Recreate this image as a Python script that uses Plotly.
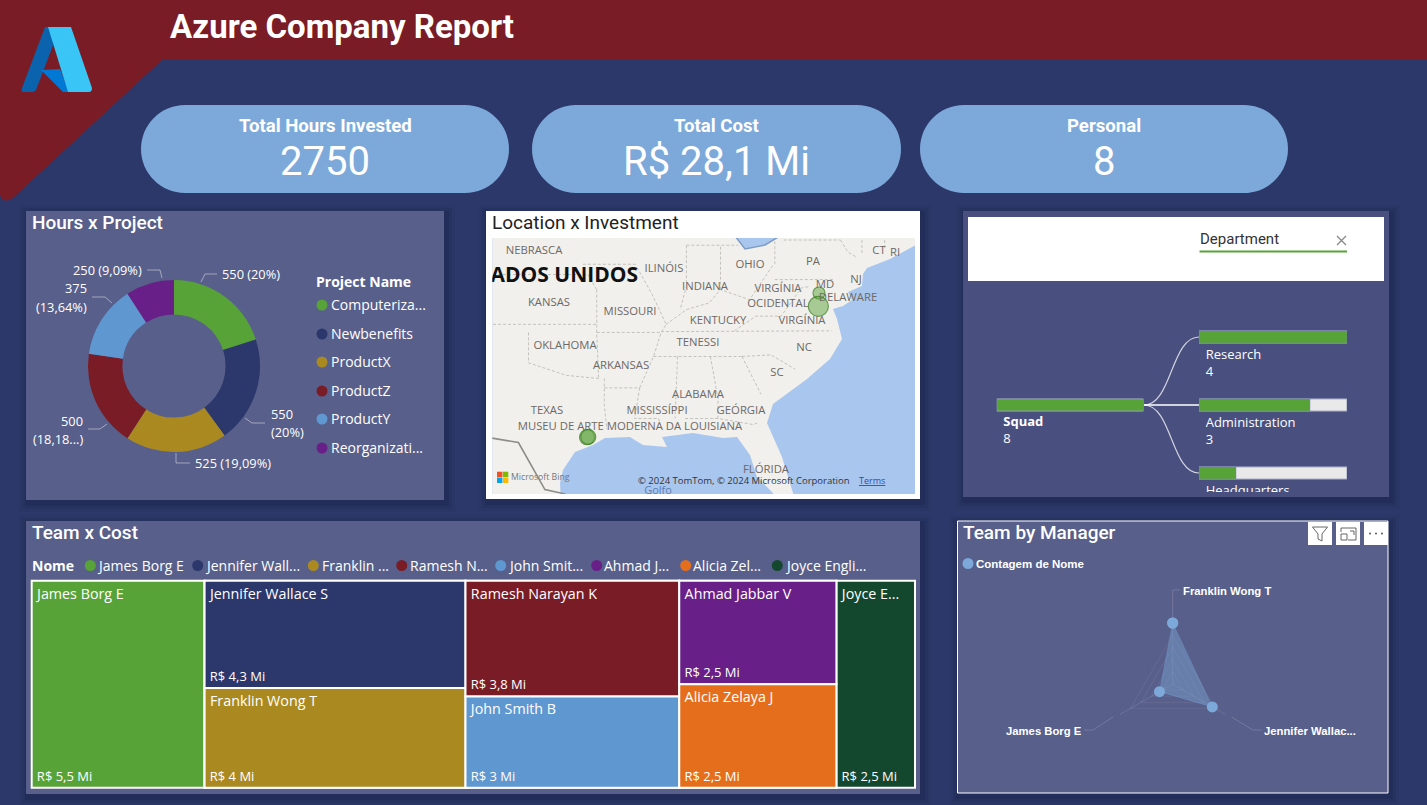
import math
import plotly.graph_objects as go

W, H = 1427, 805
BG = "#2c386a"; RED = "#7a1c26"; PANEL = "#585f8a"; PANEL2 = "#49507f"; PILL = "#7da9da"
GREEN = "#58a338"; NAVY = "#2c376b"; GOLD = "#aa8a20"; BLUE = "#5f97d1"; PURPLE = "#682088"
ORANGE = "#e56e1c"; DKGREEN = "#14482e"
DIN = "Roboto"; SEGOE = "Open Sans"; ARIAL = "Liberation Sans"

# ---- data
project_names = ["Computerization", "Newbenefits", "ProductX", "ProductZ", "ProductY", "Reorganization"]
project_hours = [550, 550, 525, 500, 375, 250]
project_colors = [GREEN, NAVY, GOLD, RED, BLUE, PURPLE]

team_ids = ["James", "gA", "Jennifer", "Franklin", "gB", "Ramesh", "John", "gC", "Ahmad", "Alicia", "Joyce"]
team_parents = ["", "", "gA", "gA", "", "gB", "gB", "", "gC", "gC", ""]
team_names = ["James Borg E", "", "Jennifer Wallace S", "Franklin Wong T", "", "Ramesh Narayan K", "John Smith B",
              "", "Ahmad Jabbar V", "Alicia Zelaya J", "Joyce E..."]
team_cost = [5.5, 8.3, 4.3, 4.0, 6.8, 3.8, 3.0, 5.0, 2.5, 2.5, 2.5]
team_cost_text = ["R$ 5,5 Mi", "", "R$ 4,3 Mi", "R$ 4 Mi", "", "R$ 3,8 Mi", "R$ 3 Mi", "", "R$ 2,5 Mi", "R$ 2,5 Mi", "R$ 2,5 Mi"]
team_colors = [GREEN, "rgba(0,0,0,0)", NAVY, GOLD, "rgba(0,0,0,0)", RED, BLUE, "rgba(0,0,0,0)", PURPLE, ORANGE, DKGREEN]

legend_names = ["James Borg E", "Jennifer Wall...", "Franklin ...", "Ramesh N...", "John Smit...", "Ahmad J...", "Alicia Zel...", "Joyce Engli..."]
legend_colors = [GREEN, NAVY, GOLD, RED, BLUE, PURPLE, ORANGE, DKGREEN]

dept_names = ["Research", "Administration", "Headquarters"]
dept_counts = [4, 3, 1]
dept_max = 4
squad_count = 8

manager_names = ["Franklin Wong T", "Jennifer Wallace S", "James Borg E"]
manager_counts = [4, 3, 1]

site_lon = [-77.0, -77.05, -95.37, -95.27]
site_lat = [38.9, 38.1, 29.76, 29.78]
site_size = [12, 20, 15, 15]

kpi_titles = ["Total Hours Invested", "Total Cost", "Personal"]
kpi_values = ["2750", "R$ 28,1 Mi", "8"]

# ---- background map outlines
land_px = [(480,520),(562,520),(560,483),(563,470),(575,452),(593,445),(605,438),(630,437),(643,445),(667,447),(662,437),
           (693,433),(723,438),(737,437),(750,455),(757,477),(773,493),(776,520),(797,520),(793,493),(782,457),(767,423),
           (773,404),(807,379),(830,359),(842,339),(837,319),(833,309),(843,306),(852,300),(848,292),(862,286),(863,274),
           (867,268),(890,259),(925,240),(925,220),(480,220)]
lake_px = [(735,236),(745,249),(765,245),(780,236)]
border_paths = [
    [(-104,40),(-95.3,40)], [(-104,37),(-94.6,37)], [(-94.6,39.1),(-94.6,36.5),(-94.45,33.6)],
    [(-94.6,36.5),(-89.5,36.5)], [(-100,36.5),(-100,34.6),(-97,33.8),(-94.45,33.6)],
    [(-94,33.6),(-94,31.9),(-93.8,30.3)], [(-94,33),(-91.2,33)], [(-91.2,33),(-91.6,31),(-89.7,31),(-89.6,30.6)],
    [(-91.2,33),(-90.1,35),(-89.5,36.5),(-89.1,37),(-90.2,38.8),(-91.4,40.4)],
    [(-89.5,36.55),(-81.7,36.6),(-76,36.6)], [(-90.1,35),(-83.1,35)], [(-88.2,35),(-88.4,31)],
    [(-85.6,35),(-85,32.3),(-85,31)], [(-87.6,31),(-85,31),(-82.2,30.6),(-81.9,30.7)],
    [(-83.1,35),(-81.6,32.6)], [(-83.1,35),(-80.8,35.1),(-78.9,34.2)],
    [(-89.1,37),(-87.5,37.9),(-85.7,38.3),(-84.8,39.1),(-82.5,38.5),(-80.6,40.6)],
    [(-87.5,41.7),(-87.5,39.3),(-88,37.9)], [(-84.8,39.1),(-84.8,41.7)], [(-87.5,41.7),(-83.4,41.7)],
    [(-80.5,40.6),(-80.5,42)], [(-80.5,39.7),(-75.8,39.7)], [(-79.8,42),(-75.3,42)],
    [(-83.7,36.6),(-82,37.5),(-80,37.5),(-78.4,39.2),(-77.7,39.3)], [(-95.7,40.6),(-91.4,40.6)],
    [(-94.6,39.1),(-95.3,40)], [(-75.3,42),(-74.7,41.3),(-74,41)],
    [(-73.6,42),(-73.6,41.2)], [(-71.8,42),(-71.8,41.5)],
]
rio_lon = [-104, -102.9, -100.8, -98.7, -97.1]
rio_lat = [29.4, 29.7, 29.4, 26.2, 25.9]

map_labels = ["NEBRASCA","ILINÓIS","OHIO","PA","CT","RI","INDIANA","VIRGÍNIA<br>OCIDENTAL","MD","NJ","DELAWARE","KANSAS","MISSOURI","KENTUCKY","VIRGÍNIA","OKLAHOMA","TENESSI","NC","ARKANSAS","SC","ALABAMA","TEXAS","MISSISSÍPPI","GEÓRGIA","MUSEU DE ARTE MODERNA DA LOUISIANA","FLÓRIDA"]
map_label_x = [534,664,750,813,879,895,705,778,825,856,848,549,630,718,802,565,698,804,621,777,698,547,657,741,630,766]
map_label_y = [251,269,265,262,251,253,287,297,285,280,298,303,312,321,321,346,343,348,366,373,395,411,411,411,427,470]


def merc(lat):
    return math.degrees(math.asinh(math.tan(math.radians(lat))))

MAP_X0, MAP_X1, MAP_Y0, MAP_Y1 = 492.3, 915, 238, 494
KX, KY = 12.63, 13.0
M0 = merc(38.9)

def px_lon(x): return -95.37 + (x-587)/KX
def px_merc(y): return M0 - (y-293)/KY

def dx(v): return [v[0]/W, v[1]/W]
def dy(y0, y1): return [1-y1/H, 1-y0/H]

def rr(x0, y0, x1, y1, r):
    k = r*0.5523
    return (f"M{x0+r},{y0} L{x1-r},{y0} C{x1-r+k},{y0} {x1},{y0+r-k} {x1},{y0+r} "
            f"L{x1},{y1-r} C{x1},{y1-r+k} {x1-r+k},{y1} {x1-r},{y1} "
            f"L{x0+r},{y1} C{x0+r-k},{y1} {x0},{y1-r+k} {x0},{y1-r} "
            f"L{x0},{y0+r} C{x0},{y0+r-k} {x0+r-k},{y0} {x0+r},{y0} Z")

shapes, ann = [], []

def rect(x0, y0, x1, y1, fill, line=None, lw=0, layer="below"):
    shapes.append(dict(type="rect", xref="x", yref="y", x0=x0, y0=y0, x1=x1, y1=y1, fillcolor=fill,
                       line=dict(color=line or fill, width=lw), layer=layer))

def path(p, fill=None, line=None, lw=0, layer="below"):
    shapes.append(dict(type="path", xref="x", yref="y", path=p, fillcolor=fill or "rgba(0,0,0,0)",
                       line=dict(color=line or "rgba(0,0,0,0)", width=lw), layer=layer))

def circle(cx, cy, r, fill, layer="below"):
    shapes.append(dict(type="circle", xref="x", yref="y", x0=cx-r, x1=cx+r, y0=cy-r, y1=cy+r,
                       fillcolor=fill, line=dict(width=0), layer=layer))

def text(x, y, s, size=13, color="white", family=SEGOE, anchor="left", vanchor="middle", weight=None):
    f = dict(size=size, color=color, family=family)
    if weight:
        f["weight"] = weight
    ann.append(dict(xref="x", yref="y", x=x, y=y-0.7, text=s, showarrow=False, xanchor=anchor, yanchor=vanchor,
                    font=f, borderpad=0, borderwidth=0))

# banner
path("M0,0 L1427,0 L1427,60 L162,60 L14,197 Q7,203 2,199 L0,195 Z", RED)
# logo
path("M45,27 L60,27 L36,90 Q35,92 32,92 L23,92 Q21,91 22,88 Z", "#0b62ad")
path("M41,70 L60,69 L69,92 L63,92 Z", "#0078d4")
path("M48,27 L71,27 L92,88 Q92,92 89,92 L68,92 Z", "#39c5f5")
text(170, 27, "<b>Azure Company Report</b>", 33, family=DIN)

# KPI pills
for (x0, x1), t, v in zip([(141, 509), (532, 901), (920, 1288)], kpi_titles, kpi_values):
    path(rr(x0, 105, x1, 193, 44), PILL)
    text((x0+x1)/2, 127, f"<b>{t}</b>", 18.6, family=DIN, anchor="center")
    text((x0+x1)/2, 162, v, 40, family=DIN, anchor="center")

# panel shadows + panels
for x0, y0, x1, y1 in [(26, 211, 444, 500), (486, 211, 920, 499), (963, 211, 1389, 497), (26, 521, 920, 794), (957, 521, 1388, 793)]:
    for g, a in [(9, .07), (6, .10), (3, .14)]:
        rect(x0-g+2, y0-g+3, x1+g+2, y1+g+3, f"rgba(20,24,50,{a})")
rect(26, 211, 444, 500, PANEL)
rect(486, 211, 920, 499, "white")
rect(963, 211, 1389, 497, PANEL2)
rect(968, 217, 1384, 281, "white")
rect(26, 521, 920, 794, PANEL)
rect(957.5, 521, 1388, 793, PANEL, "white", 1)

# titles
text(32, 223, "Hours x Project", 19, family=DIN, weight=500)
text(492, 223, "Location x Investment", 19, color="#222222", family=DIN)
text(32, 533, "Team x Cost", 19, family=DIN, weight=500)
text(963, 533, "Team by Manager", 19, family=DIN, weight=500)

# donut labels & leaders
GL = "rgba(255,255,255,.45)"
for p in ["M201,282 L205,274 L217,274", "M245,418 L252,423 L265,423", "M176,453 L176,463 L190,463",
          "M107,424 L100,429 L88,429", "M112,303 L105,297 L92,297", "M162,278 L160,270 L147,270"]:
    path(p, None, GL, 1)
for x, y, s, a in [(222, 275, "550 (20%)", "left"), (271, 415, "550", "left"), (271, 433, "(20%)", "left"),
                   (195, 464, "525 (19,09%)", "left"), (83, 422, "500", "right"), (83, 440, "(18,18...)", "right"),
                   (87, 289, "375", "right"), (87, 308, "(13,64%)", "right"), (142, 271, "250 (9,09%)", "right")]:
    text(x, y, s, 12.8, anchor=a)
text(316, 282, "<b>Project Name</b>", 14)
for yy, s, c in zip([305, 334, 362, 391, 419, 448],
                    ["Computeriza...", "Newbenefits", "ProductX", "ProductZ", "ProductY", "Reorganizati..."], project_colors):
    circle(322, yy, 5.5, c)
    text(331, yy, s, 14)

# map furniture
for x0, y0, x1, y1, c in [(497, 471.7, 502.4, 477, "#f25022"), (502.9, 471.7, 508.3, 477, "#7fba00"),
                          (497, 477.5, 502.4, 483, "#00a4ef"), (502.9, 477.5, 508.3, 483, "#ffb900")]:
    rect(x0, y0, x1, y1, c, layer="above")
rect(MAP_X0, MAP_Y0, MAP_X1, MAP_Y1, "#a9c6ef")
text(511, 478, "Microsoft Bing", 8.7, color="#777777")
text(638, 481, "© 2024 TomTom, © 2024 Microsoft Corporation", 9.5, color="#333333")
text(859, 481, "<u>Terms</u>", 9, color="#2a4fb0")

# department header
text(1200, 240, "Department", 15, color="#333333", family=DIN)
rect(1199.5, 250.5, 1347, 252.5, GREEN)
path("M1337,236 L1346,245 M1346,236 L1337,245", None, "#888888", 1.3)

# tree connectors
for yy in [337, 405, 473]:
    path(f"M1144,405 C1172,405 1171,{yy} 1199,{yy}", None, "rgba(255,255,255,.75)", 1.2 if yy != 405 else 2)

# treemap legend
text(32, 566, "<b>Nome</b>", 14)
for cx, tx, s, c in zip([90.3, 197.7, 313.3, 401.7, 500.7, 596.7, 685.7, 777.3],
                        [97, 205, 322, 410, 507.5, 604, 693, 784.5], legend_names, legend_colors):
    circle(cx, 565.5, 5.5, c)
    text(tx, 566, s, 14)

# radar furniture
LL = "rgba(255,255,255,.16)"
path("M1172.7,622 L1172.7,590 L1180,590", None, LL, 1)
path("M1231.7,717 L1253,730 L1262,730", None, LL, 1)
path("M1113,717 L1093,730 L1084,730", None, LL, 1)
text(1183, 591.4, "<b>Franklin Wong T</b>", 11.3, family=ARIAL)
text(1081.7, 731.4, "<b>James Borg E</b>", 11.3, anchor="right", family=ARIAL)
text(1264, 731.4, "<b>Jennifer Wallac...</b>", 11.3, family=ARIAL)
circle(968, 563.5, 5.5, PILL)
text(976, 564.7, "<b>Contagem de Nome</b>", 11.5, family=ARIAL)

# header icons
for x0 in (1308, 1336, 1364):
    rect(x0, 522, x0+24, 545, "white", layer="above")
path("M1312.5,527 L1327.5,527 L1322,534 L1322,541 L1318,539 L1318,534 Z", None, "#666666", 1, "above")
path("M1341,532 L1341,528 L1356,528 L1356,540 L1348,540 M1341,534 L1347,534 L1347,540 L1341,540 Z M1350,531 L1354,531 M1354,531 L1354,535", None, "#666666", 1, "above")
for cx in (1370, 1376, 1382):
    circle(cx, 533.5, 1, "#555555", "above")

fig = go.Figure()

# page pixel axes (first subplot, holds panels)
fig.add_trace(go.Scatter(x=[0], y=[0], mode="markers", marker=dict(opacity=0, size=1), hoverinfo="skip", showlegend=False))

# --- map
fig.add_trace(go.Scatter(x=[px_lon(p[0]) for p in land_px], y=[px_merc(p[1]) for p in land_px], mode="none", fill="toself", fillcolor="#f1f0ed",
                         xaxis="x2", yaxis="y2", hoverinfo="skip", showlegend=False))
fig.add_trace(go.Scatter(x=[px_lon(p[0]) for p in lake_px], y=[px_merc(p[1]) for p in lake_px], mode="lines", line=dict(color="#7f9dc4", width=1.5), fill="toself",
                         fillcolor="#a9c6ef", xaxis="x2", yaxis="y2", hoverinfo="skip", showlegend=False))
bx, by = [], []
for seg in border_paths:
    bx += [p[0] for p in seg] + [None]
    by += [merc(p[1]) for p in seg] + [None]
fig.add_trace(go.Scatter(x=bx, y=by, mode="lines", line=dict(color="#c4c2bd", width=1, dash="3px,2px"),
                         xaxis="x2", yaxis="y2", hoverinfo="skip", showlegend=False))
fig.add_trace(go.Scatter(x=rio_lon, y=[merc(v) for v in rio_lat], mode="lines", line=dict(color="#8d8d88", width=1.6),
                         xaxis="x2", yaxis="y2", hoverinfo="skip", showlegend=False))
fig.add_trace(go.Scatter(x=site_lon, y=[merc(v) for v in site_lat], mode="markers",
                         marker=dict(size=site_size, color="rgba(96,165,64,.72)", line=dict(color="#2f7a12", width=1.2)),
                         xaxis="x2", yaxis="y2", showlegend=False))
# map text (clipped to the map)
fig.add_trace(go.Scatter(x=map_label_x, y=map_label_y, text=map_labels, mode="text", cliponaxis=True,
                         textfont=dict(size=11.3, color="#6e6965", family=SEGOE, weight=500), textposition="middle center",
                         xaxis="x3", yaxis="y3", hoverinfo="skip", showlegend=False))
fig.add_trace(go.Scatter(x=[638], y=[277], text=["<b>ESTADOS UNIDOS</b>"], mode="text", cliponaxis=True,
                         textfont=dict(size=21, color="#111111", family=SEGOE), textposition="middle left",
                         xaxis="x3", yaxis="y3", hoverinfo="skip", showlegend=False))
fig.add_trace(go.Scatter(x=[658, 642], y=[491, 499], text=["Golfo", "Golf"], mode="text", cliponaxis=True,
                         textfont=dict(size=11, color="#5b80b5", family=SEGOE), textposition="middle center",
                         xaxis="x3", yaxis="y3", hoverinfo="skip", showlegend=False))

# --- decomposition tree
rows = list(range(len(dept_names)))
fig.add_trace(go.Bar(y=rows, x=[dept_max]*3, orientation="h", width=.18, marker=dict(color="#e9e9e9", line=dict(color="#9aa0bd", width=1)),
                     xaxis="x4", yaxis="y4", hoverinfo="skip", showlegend=False))
fig.add_trace(go.Bar(y=rows, x=dept_counts, orientation="h", width=.18, marker=dict(color=GREEN, line=dict(color="#7d8bb0", width=.5)),
                     xaxis="x4", yaxis="y4", name="Department", showlegend=False))
fig.add_trace(go.Bar(y=[1], x=[squad_count], orientation="h", width=.18, marker=dict(color=GREEN, line=dict(color="#9aa0bd", width=1)),
                     xaxis="x5", yaxis="y4", name="Squad", showlegend=False))
fig.add_trace(go.Scatter(x=[.18]*3, y=[i+.175 for i in rows], text=[f"{n}<br>{c}" for n, c in zip(dept_names, dept_counts)],
                         mode="text", textposition="bottom right", cliponaxis=True,
                         textfont=dict(size=13, color="white", family=SEGOE), xaxis="x4", yaxis="y4", hoverinfo="skip", showlegend=False))
fig.add_trace(go.Scatter(x=[.36], y=[1.165], text=[f"<b>Squad</b><br>{squad_count}"],
                         mode="text", textposition="bottom right", cliponaxis=True,
                         textfont=dict(size=13, color="white", family=SEGOE), xaxis="x5", yaxis="y4", hoverinfo="skip", showlegend=False))

# --- donut
fig.add_trace(go.Pie(labels=project_names, values=project_hours, hole=.6, sort=False, direction="clockwise", rotation=0,
                     marker=dict(colors=project_colors, line=dict(width=0)), textinfo="none", showlegend=False,
                     domain=dict(x=dx((88, 260)), y=dy(280, 452))))

# --- treemap (colour + name, then value layer)
tm_dom = dict(x=dx((31.7, 915)), y=dy(580.7, 787.7))
fig.add_trace(go.Treemap(ids=team_ids, parents=team_parents, labels=team_names, values=team_cost, branchvalues="total", sort=False,
                         tiling=dict(packing="slice-dice", pad=0), pathbar=dict(visible=False), domain=tm_dom,
                         marker=dict(colors=team_colors, line=dict(color="white", width=2), pad=dict(t=0, l=0, r=0, b=0)),
                         text=[("\u2009"+s if s else s) for s in team_names], texttemplate="%{text}", textposition="top left",
                         textfont=dict(size=14.3, color="white", family=SEGOE), hoverinfo="label+value", root=dict(color="rgba(0,0,0,0)")))
fig.add_trace(go.Treemap(ids=team_ids, parents=team_parents, labels=team_names, values=team_cost, branchvalues="total", sort=False,
                         tiling=dict(packing="slice-dice", pad=0), pathbar=dict(visible=False), domain=tm_dom,
                         marker=dict(colors=["rgba(0,0,0,0)"]*len(team_ids), line=dict(width=0), pad=dict(t=0, l=0, r=0, b=0)),
                         text=[("\u2009"+s if s else s) for s in team_cost_text], texttemplate="%{text}", textposition="bottom left",
                         textfont=dict(size=13, color="white", family=SEGOE), hoverinfo="skip", root=dict(color="rgba(0,0,0,0)")))

# --- radar
fig.add_trace(go.Scatterpolar(r=manager_counts+manager_counts[:1], theta=manager_names+manager_names[:1], mode="lines+markers", fill="toself",
                              fillcolor="rgba(125,169,218,.42)", line=dict(color="rgba(125,169,218,.3)", width=1),
                              marker=dict(color=PILL, size=11), name="Contagem de Nome", showlegend=False))

hidden = dict(visible=False, fixedrange=True)
fig.update_layout(
    width=W, height=H, margin=dict(l=0, r=0, t=0, b=0), paper_bgcolor=BG, plot_bgcolor="rgba(0,0,0,0)",
    barmode="overlay", showlegend=False, shapes=shapes, annotations=ann,
    xaxis=dict(hidden, range=[0, W], domain=[0, 1]),
    yaxis=dict(hidden, range=[H, 0], domain=[0, 1]),
    xaxis2=dict(hidden, range=[px_lon(MAP_X0), px_lon(MAP_X1)], domain=dx((MAP_X0, MAP_X1)), anchor="y2"),
    yaxis2=dict(hidden, range=[px_merc(MAP_Y1), px_merc(MAP_Y0)], domain=dy(MAP_Y0, MAP_Y1), anchor="x2"),
    xaxis3=dict(hidden, range=[MAP_X0, MAP_X1], domain=dx((MAP_X0, MAP_X1)), anchor="y3"),
    yaxis3=dict(hidden, range=[MAP_Y1, MAP_Y0], domain=dy(MAP_Y0, MAP_Y1), anchor="x3"),
    xaxis4=dict(hidden, range=[0, dept_max], domain=dx((1199, 1347)), anchor="y4"),
    yaxis4=dict(hidden, range=[(492-337)/68, -(337-303)/68], domain=dy(303, 492), anchor="x4"),
    xaxis5=dict(hidden, range=[0, squad_count], domain=dx((996.7, 1143.5)), anchor="y4"),
    polar=dict(domain=dict(x=dx((1111.7, 1233.7)), y=dy(623, 745)), bgcolor="rgba(0,0,0,0)",
               radialaxis=dict(range=[0, 4], tickvals=[.8, 1.6, 2.4, 3.2, 4], showticklabels=False, ticks="", showline=False,
                               gridcolor="rgba(255,255,255,.07)", gridwidth=1),
               angularaxis=dict(rotation=90, direction="clockwise", showticklabels=False, ticks="", showline=False,
                                gridcolor="rgba(255,255,255,.11)"),
               gridshape="linear"),
)
fig.write_html("out.html", config=dict(displayModeBar=False),
               post_script="document.body.style.margin='0';document.body.style.overflow='hidden';")
